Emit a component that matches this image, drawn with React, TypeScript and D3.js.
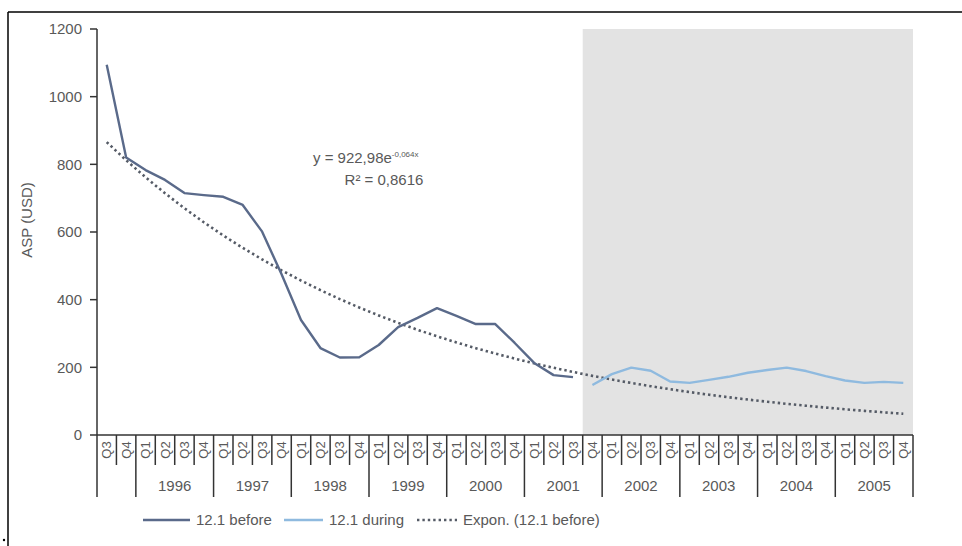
import { useEffect, useRef } from "react";
import * as d3 from "d3";

// quarters from Q3 1995 to Q4 2005
const quarterLabels = [
  "Q3", "Q4",
  "Q1", "Q2", "Q3", "Q4", "Q1", "Q2", "Q3", "Q4", "Q1", "Q2", "Q3", "Q4",
  "Q1", "Q2", "Q3", "Q4", "Q1", "Q2", "Q3", "Q4", "Q1", "Q2", "Q3", "Q4",
  "Q1", "Q2", "Q3", "Q4", "Q1", "Q2", "Q3", "Q4", "Q1", "Q2", "Q3", "Q4",
  "Q1", "Q2", "Q3", "Q4",
];
const yearLabels = ["", "1996", "1997", "1998", "1999", "2000", "2001", "2002", "2003", "2004", "2005"];
const quartersPerYear = [2, 4, 4, 4, 4, 4, 4, 4, 4, 4, 4];

// 12.1 before: Q3 1995 .. Q3 2001
const beforeValues = [
  1094, 820, 783, 754, 715, 709, 704, 680, 601, 475, 340, 257, 229,
  230, 266, 319, 346, 375, 352, 328, 328, 272, 213, 177, 171,
];
// 12.1 during: Q4 2001 .. Q4 2005
const duringValues = [
  148, 180, 199, 190, 158, 154, 163, 172, 184, 192, 199, 189, 174, 161, 154, 157, 154,
];
const duringStart = 25;

// Excel trendline y = 922,98e^(-0,064x)
const trendA = 922.98;
const trendB = -0.064;

const yTicks = [0, 200, 400, 600, 800, 1000, 1200];

const W = 962;
const H = 546;
const left = 97;
const right = 913;
const top = 29;
const bottom = 435;

const textColor = "#595959";
const axisColor = "#333333";
const font = "Liberation Sans, Arial, sans-serif";

const App = () => {
  const svgRef = useRef<SVGSVGElement>(null);

  useEffect(() => {
    const svg = d3.select(svgRef.current);
    svg.selectAll("*").remove();

    const idx = quarterLabels.map((_, i) => i);
    const x = d3.scaleBand<number>().domain(idx).range([left, right]).padding(0);
    const cx = (i: number) => (x(i) || 0) + x.bandwidth() / 2;
    const y = d3.scaleLinear().domain([0, 1200]).range([bottom, top]);

    // frame lines of the pasted picture
    svg.append("line").attr("x1", 8).attr("x2", W).attr("y1", 12).attr("y2", 12)
      .attr("stroke", "#000").attr("stroke-width", 1.5);
    svg.append("line").attr("x1", 8).attr("x2", 8).attr("y1", 12).attr("y2", H)
      .attr("stroke", "#000").attr("stroke-width", 1.5);

    // shaded "during" period
    svg.append("rect")
      .attr("x", x(duringStart) || 0)
      .attr("y", y(1200))
      .attr("width", right - (x(duringStart) || 0))
      .attr("height", y(0) - y(1200))
      .attr("fill", "#e3e3e3");

    // y axis
    svg.append("line").attr("x1", left).attr("x2", left).attr("y1", y(1200)).attr("y2", y(0))
      .attr("stroke", axisColor).attr("stroke-width", 1.5);
    yTicks.forEach((t) => {
      svg.append("line").attr("x1", left - 7).attr("x2", left).attr("y1", y(t)).attr("y2", y(t))
        .attr("stroke", axisColor).attr("stroke-width", 1.5);
      svg.append("text").attr("x", 82).attr("y", y(t)).attr("dy", "0.35em")
        .attr("text-anchor", "end").attr("font-family", font).attr("font-size", 15)
        .attr("fill", textColor).text(t);
    });
    svg.append("text")
      .attr("transform", `translate(27,${(y(1200) + y(0)) / 2 - 12}) rotate(-90)`)
      .attr("text-anchor", "middle").attr("dy", "0.35em")
      .attr("font-family", font).attr("font-size", 15).attr("fill", textColor)
      .text("ASP (USD)");

    // x axis
    svg.append("line").attr("x1", left).attr("x2", right).attr("y1", y(0)).attr("y2", y(0))
      .attr("stroke", axisColor).attr("stroke-width", 1.5);

    const yearStarts: number[] = [];
    let acc = 0;
    quartersPerYear.forEach((n) => {
      yearStarts.push(acc);
      acc += n;
    });
    yearStarts.push(acc);

    idx.concat([idx.length]).forEach((i) => {
      const xx = i < idx.length ? x(i) || 0 : right;
      const long = yearStarts.includes(i);
      svg.append("line").attr("x1", xx).attr("x2", xx).attr("y1", y(0)).attr("y2", long ? 497 : 465)
        .attr("stroke", axisColor).attr("stroke-width", 1.5);
    });

    quarterLabels.forEach((q, i) => {
      svg.append("text")
        .attr("transform", `translate(${cx(i)},450) rotate(-90)`)
        .attr("text-anchor", "middle").attr("dy", "0.35em")
        .attr("font-family", font).attr("font-size", 13).attr("fill", textColor)
        .text(q);
    });

    yearLabels.forEach((yl, k) => {
      if (!yl) return;
      const a = x(yearStarts[k]) || 0;
      const b = yearStarts[k + 1] < idx.length ? x(yearStarts[k + 1]) || 0 : right;
      svg.append("text").attr("x", (a + b) / 2).attr("y", 491)
        .attr("text-anchor", "middle").attr("font-family", font).attr("font-size", 15)
        .attr("fill", textColor).text(yl);
    });

    // series
    const line = d3.line<[number, number]>().x((d) => cx(d[0])).y((d) => y(d[1]));

    const trend: [number, number][] = idx.map((i) => [i, trendA * Math.exp(trendB * (i + 1))]);
    svg.append("path").attr("d", line(trend) || "")
      .attr("fill", "none").attr("stroke", "#555b66").attr("stroke-width", 2.6)
      .attr("stroke-dasharray", "2.4 3");

    const before: [number, number][] = beforeValues.map((v, i) => [i, v]);
    svg.append("path").attr("d", line(before) || "")
      .attr("fill", "none").attr("stroke", "#5a6a8a").attr("stroke-width", 2.4)
      .attr("stroke-linejoin", "round");

    const during: [number, number][] = duringValues.map((v, i) => [duringStart + i, v]);
    svg.append("path").attr("d", line(during) || "")
      .attr("fill", "none").attr("stroke", "#8fbadf").attr("stroke-width", 2.4)
      .attr("stroke-linejoin", "round");

    // equation
    const eq = svg.append("text").attr("x", 313).attr("y", 163)
      .attr("font-family", font).attr("font-size", 15).attr("fill", textColor);
    eq.append("tspan").text("y = 922,98e");
    eq.append("tspan").attr("dy", -6).attr("font-size", 8).text("-0,064x");
    svg.append("text").attr("x", 384).attr("y", 185).attr("text-anchor", "middle")
      .attr("font-family", font).attr("font-size", 15).attr("fill", textColor)
      .text("R² = 0,8616");

    // legend
    const ly = 520;
    const legend = [
      { x1: 143, x2: 190, color: "#5a6a8a", dash: "", label: "12.1 before" },
      { x1: 284, x2: 323, color: "#8fbadf", dash: "", label: "12.1 during" },
      { x1: 417, x2: 457, color: "#555b66", dash: "2.4 3", label: "Expon. (12.1 before)" },
    ];
    legend.forEach((l) => {
      svg.append("line").attr("x1", l.x1).attr("x2", l.x2).attr("y1", ly).attr("y2", ly)
        .attr("stroke", l.color).attr("stroke-width", 2.4)
        .attr("stroke-dasharray", l.dash || null);
      svg.append("text").attr("x", l.x2 + 6).attr("y", ly).attr("dy", "0.35em")
        .attr("font-family", font).attr("font-size", 15).attr("fill", textColor)
        .text(l.label);
    });

    svg.append("circle").attr("cx", 4).attr("cy", 540).attr("r", 1.2).attr("fill", "#000");
  }, []);

  return (
    <svg
      ref={svgRef}
      width={W}
      height={H}
      style={{ position: "absolute", left: 0, top: 0, background: "#fff" }}
    />
  );
};

export default App;
